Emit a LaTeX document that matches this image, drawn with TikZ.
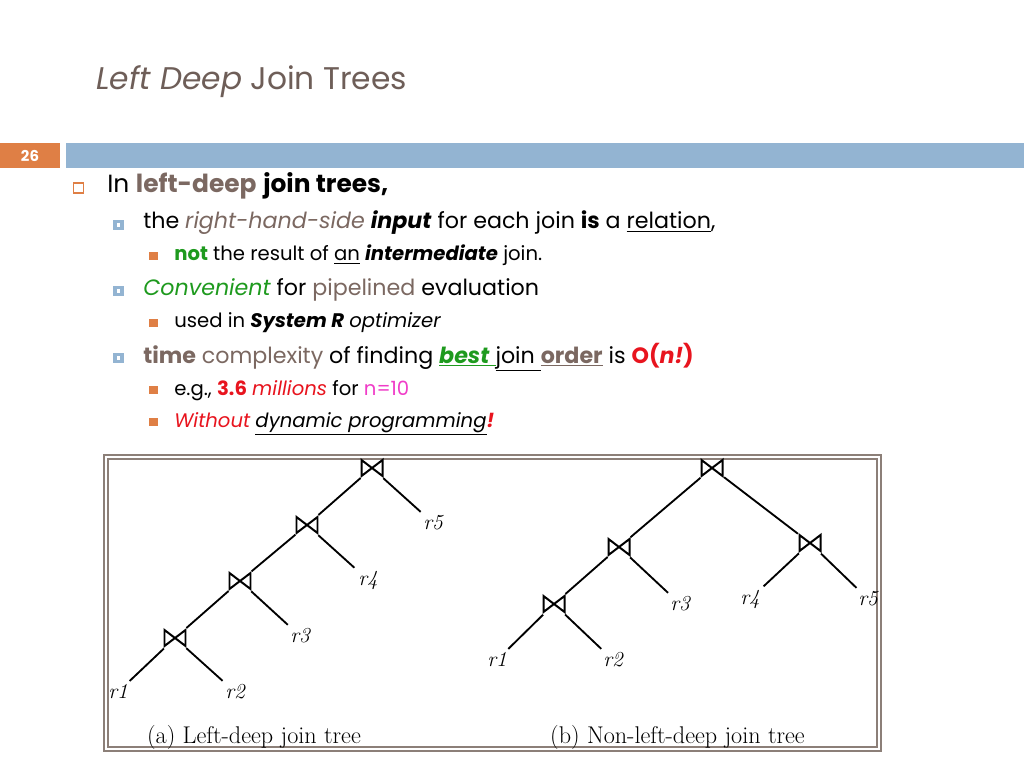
\documentclass[tikz,border=0pt]{standalone}
\usepackage{fontspec}
\newfontfamily\gothic{Poppins}
\usetikzlibrary{calc}
\definecolor{titlec}{HTML}{6E5E58}
\definecolor{brownc}{HTML}{7B6861}
\definecolor{greenc}{HTML}{1E9A1E}
\definecolor{redc}{HTML}{E8141E}
\definecolor{magc}{HTML}{F03CC8}
\definecolor{orangec}{HTML}{DF7F45}
\definecolor{bluec}{HTML}{93B4D2}
\definecolor{framec}{HTML}{8C7F78}
\tikzset{
  txt/.style={anchor=base west, inner sep=0pt, font=\gothic},
  lone/.style={txt, font=\gothic\fontsize{17.5}{21}\selectfont},
  ltwo/.style={txt, font=\gothic\fontsize{15.6}{19}\selectfont},
  lthree/.style={txt, font=\gothic\fontsize{13.8}{17}\selectfont},
  bulone/.style={draw=orangec, line width=0.9pt, minimum size=7.2pt, inner sep=0pt},
  bultwo/.style={draw=bluec, fill=white, line width=2.5pt, minimum size=5.2pt, inner sep=0pt},
  bulthree/.style={fill=orangec, minimum size=6.2pt, inner sep=0pt},
  joinnode/.style={circle, minimum size=21pt, inner sep=0pt},
  leaf/.style={inner sep=2.5pt, font=\fontsize{15}{17}\selectfont\itshape},
  conn/.style={line width=1.3pt, black},
  bow/.style={line width=1.4pt, black, line join=miter},
  captext/.style={inner sep=0pt, font=\fontsize{17}{20}\selectfont}
}
\begin{document}
\begin{tikzpicture}[x=0.703125pt, y=-0.703125pt]
\useasboundingbox (0,0) rectangle (1024,768);
\fill[white] (0,0) rectangle (1024,768);
% title
\node[txt, font=\gothic\fontsize{22}{26}\selectfont, text=titlec] (title) at (96,90) {\textit{Left Deep} Join Trees};
% header bars
\fill[orangec] (0,143) rectangle (60,168);
\node[inner sep=0pt, text=white, font=\gothic\bfseries\fontsize{10.5}{12}\selectfont] (num) at (30,155.5) {26};
\fill[bluec] (66,143) rectangle (1024,168);
% bullets
\node[bulone] (b1) at (78.5,188) {};
\node[bultwo] (b2) at (118.5,225) {};
\node[bulthree] (b3) at (153.5,256) {};
\node[bultwo] (b4) at (118.5,291) {};
\node[bulthree] (b5) at (153.5,323) {};
\node[bultwo] (b6) at (118.5,358) {};
\node[bulthree] (b7) at (153.5,390) {};
\node[bulthree] (b8) at (153.5,422) {};
% text lines
\node[lone] (t1) at (107,193) {In \textbf{\textcolor{brownc}{left-deep}} \textbf{join trees,}};
\node[ltwo] (t2) at (143,229) {the \textit{\textcolor{brownc}{right-hand-side}} \textbf{\textit{input}} for each join \textbf{is} a \underline{relation},};
\node[lthree] (t3) at (174,261) {\textbf{\textcolor{greenc}{not}} the result of \underline{an} \textbf{\textit{intermediate}} join.};
\node[ltwo] (t4) at (143,296) {\textit{\textcolor{greenc}{Convenient}} for \textcolor{brownc}{pipelined} evaluation};
\node[lthree] (t5) at (174,328) {used in \textbf{\textit{System R}} \textit{optimizer}};
\node[ltwo] (t6) at (143,363) {\textbf{\textcolor{brownc}{time}} \textcolor{brownc}{complexity} of finding \textcolor{greenc}{\underline{\textbf{\textit{best}} }}\underline{join }\textcolor{brownc}{\underline{\textbf{order}}} is \textcolor{redc}{\textbf{O(\textit{n!})}}};
\node[lthree] (t7) at (174,395) {e.g., \textbf{\textcolor{redc}{3.6}} \textit{\textcolor{redc}{millions}} for \textcolor{magc}{n=10}};
\node[lthree] (t8) at (174,427) {\textit{\textcolor{redc}{Without}} \textit{\underline{dynamic programming}}\textbf{\textit{\textcolor{redc}{!}}}};
% frame
\draw[framec, line width=1.6pt] (104,455) rectangle (881,751);
\draw[framec, line width=0.8pt] (108,459) rectangle (877,747);
% tree (a)
\node[joinnode] (a1) at (372,468) {};
\node[joinnode] (a2) at (307,525) {};
\node[joinnode] (a3) at (240,581) {};
\node[joinnode] (a4) at (175,638) {};
\node[leaf] (ar5) at (433,523) {r5};
\node[leaf] (ar4) at (368,580) {r4};
\node[leaf] (ar3) at (300,636) {r3};
\node[leaf] (ar1) at (118,692) {r1};
\node[leaf] (ar2) at (235,692) {r2};
\draw[conn] (a1) -- (a2);
\draw[conn] (a1) -- (ar5);
\draw[conn] (a2) -- (a3);
\draw[conn] (a2) -- (ar4);
\draw[conn] (a3) -- (a4);
\draw[conn] (a3) -- (ar3);
\draw[conn] (a4) -- (ar1);
\draw[conn] (a4) -- (ar2);
\node[captext] (capa) at (254,737) {(a) Left-deep join tree};
% tree (b)
\node[joinnode] (n1) at (712,468) {};
\node[joinnode] (n2) at (619,547) {};
\node[joinnode] (n3) at (810,543) {};
\node[joinnode] (n4) at (554,604) {};
\node[leaf] (br3) at (680,604) {r3};
\node[leaf] (br4) at (750,599) {r4};
\node[leaf] (br5) at (868,599) {r5};
\node[leaf] (br1) at (497,660) {r1};
\node[leaf] (br2) at (613,660) {r2};
\draw[conn] (n1) -- (n2);
\draw[conn] (n1) -- (n3);
\draw[conn] (n2) -- (n4);
\draw[conn] (n2) -- (br3);
\draw[conn] (n3) -- (br4);
\draw[conn] (n3) -- (br5);
\draw[conn] (n4) -- (br1);
\draw[conn] (n4) -- (br2);
\node[captext] (capb) at (677.5,737) {(b) Non-left-deep join tree};
% bowtie symbols
\foreach \n in {a1,a2,a3,a4,n1,n2,n3,n4}
  \draw[bow] (\n.center) ++(-10.5,-8) -- ++(0,16) -- ++(21,-16) -- ++(0,16) -- cycle;
\end{tikzpicture}
\end{document}
